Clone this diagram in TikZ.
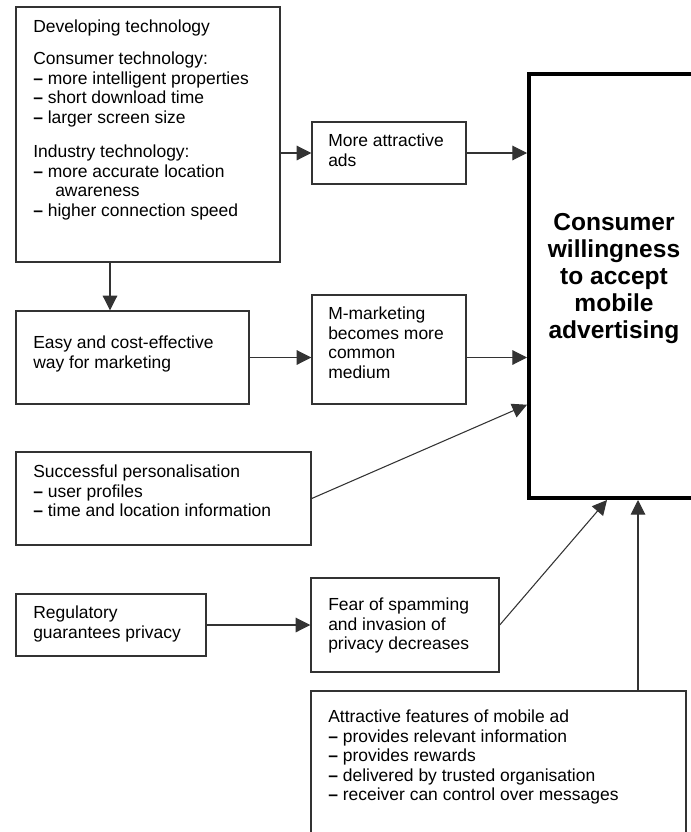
\documentclass[tikz,border=0pt]{standalone}
\usepackage{fontspec}
\setmainfont{Liberation Sans}
\usetikzlibrary{arrows.meta,fit,positioning}

\newcommand{\itemdash}{\textbf{--}\ }

\tikzset{
  box/.style={draw=black!80, line width=1.1pt, inner sep=0pt},
  bigbox/.style={draw=black, line width=3pt, inner sep=0pt},
  txt/.style={inner sep=0pt, align=left, anchor=north west, font=\fontsize{13.1}{14.7}\selectfont},
  title/.style={inner sep=0pt, align=center, font=\bfseries\fontsize{18.4}{20.25}\selectfont},
  arr/.style={draw=black!80, line width=0.8pt, -{Triangle[length=11pt,width=11pt]}},
}

\begin{document}
\begin{tikzpicture}[x=0.75pt, y=-0.75pt]
  \useasboundingbox (0,0) rectangle (691,832);
  \clip (0,0) rectangle (691,832);
  % boxes
  \node[box, fit={(16,7) (280,262)}] (dev) {};
  \node[box, fit={(312,122) (466,184)}] (ads) {};
  \node[bigbox, fit={(529,74) (720,498)}] (consumer) {};
  \node[box, fit={(16,311) (249,404)}] (easy) {};
  \node[box, fit={(312,295) (466,404)}] (mmkt) {};
  \node[box, fit={(16,452) (311,545)}] (perso) {};
  \node[box, fit={(16,594) (206,656)}] (regul) {};
  \node[box, fit={(311,578) (499,672)}] (fear) {};
  \node[box, fit={(311,691) (686,860)}] (feat) {};
  % texts
  \node[txt] (devtxt) at (33,19.5) {Developing technology\\[9.5pt]
    Consumer technology:\\ \itemdash more intelligent properties\\ \itemdash short download time\\ \itemdash larger screen size\\[11pt]
    Industry technology:\\ \itemdash more accurate location\\ \hspace*{16.5pt}awareness\\ \itemdash higher connection speed};
  \node[txt] (adstxt) at (328,133.5) {More attractive\\ads};
  \node[title] (constxt) at (614,279) {Consumer\\willingness\\to accept\\mobile\\advertising};
  \node[txt] (easytxt) at (33,335.5) {Easy and cost-effective\\way for marketing};
  \node[txt] (mmkttxt) at (328,306.5) {M-marketing\\becomes more\\common\\medium};
  \node[txt] (persotxt) at (33,464.5) {Successful personalisation\\ \itemdash user profiles\\ \itemdash time and location information};
  \node[txt] (regultxt) at (33,605.5) {Regulatory\\guarantees privacy};
  \node[txt] (feartxt) at (328,597.5) {Fear of spamming\\and invasion of\\privacy decreases};
  \node[txt] (feattxt) at (328,709.5) {Attractive features of mobile ad\\ \itemdash provides relevant information\\ \itemdash provides rewards\\ \itemdash delivered by trusted organisation\\ \itemdash receiver can control over messages};
  % arrows
  \draw[arr] (dev.east |- ads.west) -- (ads.west);
  \draw[arr] (ads.east) -- (consumer.west |- ads.east);
  \draw[arr] ([shift={(-38,0)}]dev.south) -- ([shift={(-38,0)}]dev.south |- easy.north);
  \draw[arr] (easy.east) -- (mmkt.west |- easy.east);
  \draw[arr] (mmkt.east |- easy.east) -- (consumer.west |- easy.east);
  \draw[arr] (perso.east) -- (consumer.west |- mmkt.south);
  \draw[arr] (regul.east) -- (fear.west);
  \draw[arr] (fear.east) -- ([shift={(-17.5,0)}]consumer.south);
  \draw[arr] ([shift={(13.5,0)}]consumer.south |- feat.north) -- ([shift={(13.5,0)}]consumer.south);
\end{tikzpicture}
\end{document}
